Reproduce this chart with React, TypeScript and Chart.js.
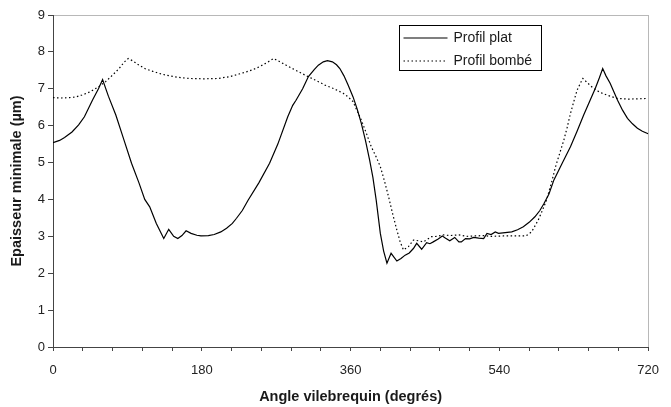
import React, { useEffect, useRef } from "react";
import { Chart, registerables } from "chart.js";

Chart.register(...registerables);

const xTickStep = 36;
const xMin = 0;
const xMax = 720;
const yMin = 0;
const yMax = 9;

const seriesNames = ["Profil plat", "Profil bombé"];
const xTitle = "Angle vilebrequin (degrés)";
const yTitle = "Epaisseur minimale (µm)";

const platAngles = [
  0, 8, 14, 23, 31, 38, 48, 55, 60, 67, 76, 86, 95, 104, 111, 117, 125, 134, 140, 146,
  151, 156, 161, 167, 174, 179, 188, 195, 203, 210, 217, 222, 229, 236, 249, 262, 272, 284, 290, 294,
  302, 309, 316, 321, 327, 332, 338, 343, 347, 352, 357, 363, 368, 373, 378, 383, 387, 391, 396, 400,
  404, 409, 416, 421, 426, 431, 436, 440, 446, 452, 456, 460, 466, 471, 475, 480, 486, 491, 494, 499,
  504, 509, 515, 521, 525, 530, 535, 539, 547, 555, 562, 569, 576, 583, 589, 594, 600, 606, 616, 626,
  634, 642, 649, 656, 661, 665, 669, 674, 683, 689, 695, 701, 707, 713, 720,
];
const platValues = [
  5.54, 5.6, 5.68, 5.83, 6.02, 6.24, 6.7, 7.0, 7.25, 6.8, 6.29, 5.6, 4.98, 4.45, 4.0, 3.8, 3.35, 2.94, 3.19, 3.0,
  2.94, 3.02, 3.15, 3.08, 3.03, 3.01, 3.02, 3.05, 3.12, 3.22, 3.35, 3.49, 3.7, 3.98, 4.45, 4.98, 5.5, 6.24, 6.55, 6.69,
  7.0, 7.33, 7.52, 7.64, 7.73, 7.76, 7.73, 7.65, 7.55, 7.35, 7.1, 6.78, 6.45, 6.06, 5.6, 5.07, 4.6, 3.98, 3.08, 2.6,
  2.27, 2.54, 2.33, 2.4, 2.49, 2.55, 2.67, 2.81, 2.65, 2.83, 2.8, 2.85, 2.93, 3.01, 2.95, 2.88, 2.97, 2.85, 2.85, 2.94,
  2.93, 2.97, 2.95, 2.94, 3.08, 3.05, 3.12, 3.08, 3.1, 3.12, 3.18, 3.26, 3.38, 3.53, 3.7, 3.89, 4.15, 4.53, 4.98, 5.43,
  5.85, 6.29, 6.65, 7.01, 7.3, 7.55, 7.35, 7.15, 6.69, 6.42, 6.2, 6.05, 5.93, 5.85, 5.78,
];

const bombeAngles = [
  0, 10, 20, 28, 35, 42, 49, 56, 64, 72, 80, 86, 91, 97, 104, 111, 121, 131, 141, 151,
  165, 183, 200, 214, 225, 234, 242, 250, 258, 267, 274, 282, 292, 305, 317, 329, 340, 351, 357, 363,
  368, 373, 379, 385, 391, 396, 401, 406, 411, 416, 420, 424, 430, 436, 442, 448, 453, 458, 465, 472,
  480, 491, 500, 510, 520, 530, 545, 560, 572, 579, 587, 592, 597, 603, 608, 613, 618, 622, 626, 630,
  634, 638, 641, 647, 654, 662, 670, 682, 697, 710, 720,
];
const bombeValues = [
  6.76, 6.75, 6.76, 6.78, 6.83, 6.89, 6.97, 7.07, 7.2, 7.37, 7.55, 7.72, 7.82, 7.75, 7.64, 7.55, 7.47, 7.4, 7.35, 7.31,
  7.28, 7.27, 7.28, 7.33, 7.4, 7.46, 7.52, 7.6, 7.7, 7.82, 7.74, 7.64, 7.52, 7.37, 7.24, 7.1, 7.0, 6.88, 6.78, 6.65,
  6.4, 6.15, 5.8, 5.43, 5.15, 4.89, 4.5, 4.07, 3.6, 3.17, 2.85, 2.63, 2.72, 2.9, 2.88, 2.85, 2.92, 2.99, 3.0, 3.04,
  3.02, 3.04, 3.0, 3.01, 3.02, 3.0, 3.01, 3.01, 3.01, 3.12, 3.44, 3.7, 3.98, 4.45, 4.89, 5.25, 5.61, 5.95, 6.33, 6.65,
  6.96, 7.15, 7.28, 7.15, 7.01, 6.9, 6.83, 6.74, 6.72, 6.73, 6.74,
];

const legendPlugin = {
  id: "boxLegend",
  afterDraw(chart: any) {
    const ctx = chart.ctx;
    const x0 = 399.5;
    const y0 = 25.5;
    const w = 142;
    const h = 45;
    ctx.save();
    ctx.fillStyle = "#ffffff";
    ctx.fillRect(x0, y0, w, h);
    ctx.strokeStyle = "#000000";
    ctx.lineWidth = 1;
    ctx.strokeRect(x0, y0, w, h);
    const rows = [y0 + 12.5, y0 + 35.5];
    const dashes = [[], [1.5, 2.5]];
    ctx.font = "14px 'Liberation Sans', Arial, sans-serif";
    ctx.textBaseline = "middle";
    ctx.fillStyle = "#1a1a1a";
    rows.forEach((ry, i) => {
      ctx.beginPath();
      ctx.setLineDash(dashes[i]);
      ctx.lineWidth = 1.2;
      ctx.moveTo(x0 + 4, ry);
      ctx.lineTo(x0 + 48, ry);
      ctx.stroke();
      ctx.setLineDash([]);
      ctx.fillText(seriesNames[i], x0 + 54, ry);
    });
    ctx.restore();
  },
};

export default function App() {
  const ref = useRef<HTMLCanvasElement>(null);
  useEffect(() => {
    if (!ref.current) return;
    const chart = new Chart(ref.current, {
      type: "line",
      data: {
        datasets: [
          {
            label: seriesNames[0],
            data: platAngles.map((a, i) => ({ x: a, y: platValues[i] })),
            borderColor: "#000000",
            borderWidth: 1.2,
            pointRadius: 0,
            tension: 0,
            fill: false,
          },
          {
            label: seriesNames[1],
            data: bombeAngles.map((a, i) => ({ x: a, y: bombeValues[i] })),
            borderColor: "#000000",
            borderWidth: 1.2,
            borderDash: [1.5, 2.5],
            pointRadius: 0,
            tension: 0,
            fill: false,
          },
        ],
      },
      options: {
        animation: false,
        responsive: true,
        maintainAspectRatio: false,
        layout: { padding: { top: 15, right: 12, left: 0, bottom: 0 } },
        plugins: { legend: { display: false }, tooltip: { enabled: false } },
        scales: {
          x: {
            type: "linear",
            min: xMin,
            max: xMax,
            afterFit: (s: any) => {
              s.height = 60;
            },
            ticks: {
              stepSize: xTickStep,
              autoSkip: false,
              maxRotation: 0,
              padding: 12,
              color: "#222",
              font: { family: "'Liberation Sans', Arial, sans-serif", size: 13 },
              callback: (v: any) => (Number(v) % 180 === 0 ? String(v) : ""),
            },
            grid: {
              drawOnChartArea: true,
              color: (c: any) => (c.tick && c.tick.value === xMax ? "#b8b8b8" : "rgba(0,0,0,0)"),
              tickColor: "#444",
              tickLength: 4,
            },
            border: { display: true, color: "#444", width: 1 },
            title: {
              display: true,
              text: xTitle,
              color: "#1a1a1a",
              font: { family: "'Liberation Sans', Arial, sans-serif", size: 14.5, weight: "bold" },
              padding: { top: 0, bottom: 1 },
            },
          },
          y: {
            min: yMin,
            max: yMax,
            afterFit: (s: any) => {
              s.width = 53;
            },
            ticks: {
              stepSize: 1,
              padding: 3,
              color: "#222",
              font: { family: "'Liberation Sans', Arial, sans-serif", size: 13 },
            },
            grid: {
              drawOnChartArea: true,
              color: (c: any) => (c.tick && c.tick.value === yMax ? "#b8b8b8" : "rgba(0,0,0,0)"),
              tickColor: "#444",
              tickLength: 5,
            },
            border: { display: true, color: "#444", width: 1 },
            title: {
              display: true,
              text: yTitle,
              color: "#1a1a1a",
              font: { family: "'Liberation Sans', Arial, sans-serif", size: 14.5, weight: "bold" },
              padding: { top: 8, bottom: 0 },
            },
          },
        },
      },
      plugins: [legendPlugin],
    });
    return () => chart.destroy();
  }, []);
  return (
    <div style={{ position: "absolute", left: 0, top: 0, width: 671, height: 407, background: "#fff" }}>
      <canvas ref={ref} />
    </div>
  );
}
